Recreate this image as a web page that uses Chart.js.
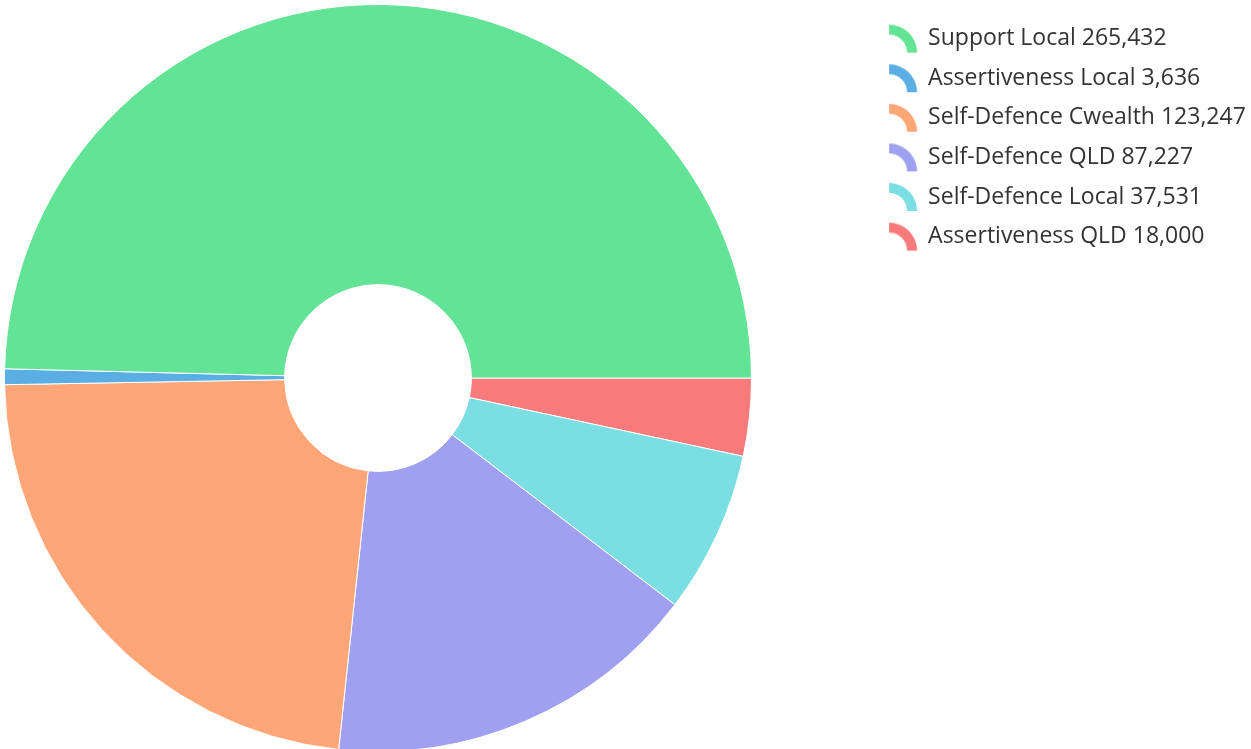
<!DOCTYPE html>
<html>
<head>
<meta charset="utf-8">
<script src="https://cdn.jsdelivr.net/npm/chart.js@4/dist/chart.umd.min.js"></script>
<style>
  html, body { margin: 0; padding: 0; background: #fff; overflow: hidden; }
  #wrap { width: 1251px; height: 752px; position: relative; }
</style>
</head>
<body>
<div id="wrap"><canvas id="chart"></canvas></div>
<script>
// values, in legend order (counter-clockwise from 3 o'clock in the reference)
const categories = ['Support Local', 'Assertiveness Local', 'Self-Defence Cwealth', 'Self-Defence QLD', 'Self-Defence Local', 'Assertiveness QLD'];
const amounts = [265432, 3636, 123247, 87227, 37531, 18000];
const colors = ['#63E395', '#5AAEE3', '#FFA678', '#A0A0F0', '#7BDEE2', '#F87A7A'];

// small quarter-arc swatch used in the legend
function arcIcon(color) {
    const c = document.createElement('canvas');
    c.width = 34; c.height = 30;
    const ctx = c.getContext('2d');
    ctx.fillStyle = color;
    ctx.beginPath();
    ctx.arc(1, 29, 28, -Math.PI / 2, 0);
    ctx.arc(1, 29, 18, 0, -Math.PI / 2, true);
    ctx.closePath();
    ctx.fill();
    return c;
}

// Chart.js only sweeps clockwise, so feed the slices reversed and flip the legend back
const labels = categories.map((c, i) => c + ' ' + amounts[i].toLocaleString('en-US')).reverse();
const values = amounts.slice().reverse();
const sliceColors = colors.slice().reverse();

// keep the doughnut in the left 756px and put the legend where the reference has it
const legendSpot = {
    id: 'legendSpot',
    afterInit(chart) {
        const legend = chart.legend;
        const fit = legend.fit;
        legend.fit = function () {
            fit.call(this);
            this.width = 495;
        };
    },
    afterLayout(chart) {
        const legend = chart.legend;
        legend.left = 877;
        legend.right = 1251;
        legend.top = 10.5;
    }
};

new Chart(document.getElementById('chart').getContext('2d'), {
    type: 'doughnut',
    data: {
        labels,
        datasets: [{
            data: values,
            backgroundColor: sliceColors,
            borderColor: '#ffffff',
            borderWidth: 1
        }]
    },
    plugins: [legendSpot],
    options: {
        responsive: true,
        maintainAspectRatio: false,
        animation: false,
        cutout: '25%',
        rotation: 90,
        layout: { padding: { top: 4 } },
        plugins: {
            tooltip: { enabled: false },
            legend: {
                position: 'right',
                align: 'start',
                reverse: true,
                labels: {
                    usePointStyle: true,
                    boxWidth: 23,
                    boxHeight: 23,
                    padding: 16.6,
                    color: '#333',
                    font: { family: '"Open Sans", sans-serif', size: 23 },
                    generateLabels(chart) {
                        const items = Chart.overrides.doughnut.plugins.legend.labels.generateLabels(chart);
                        items.forEach((it) => { it.pointStyle = arcIcon(sliceColors[it.index]); });
                        return items;
                    }
                }
            }
        }
    }
});
</script>
</body>
</html>
